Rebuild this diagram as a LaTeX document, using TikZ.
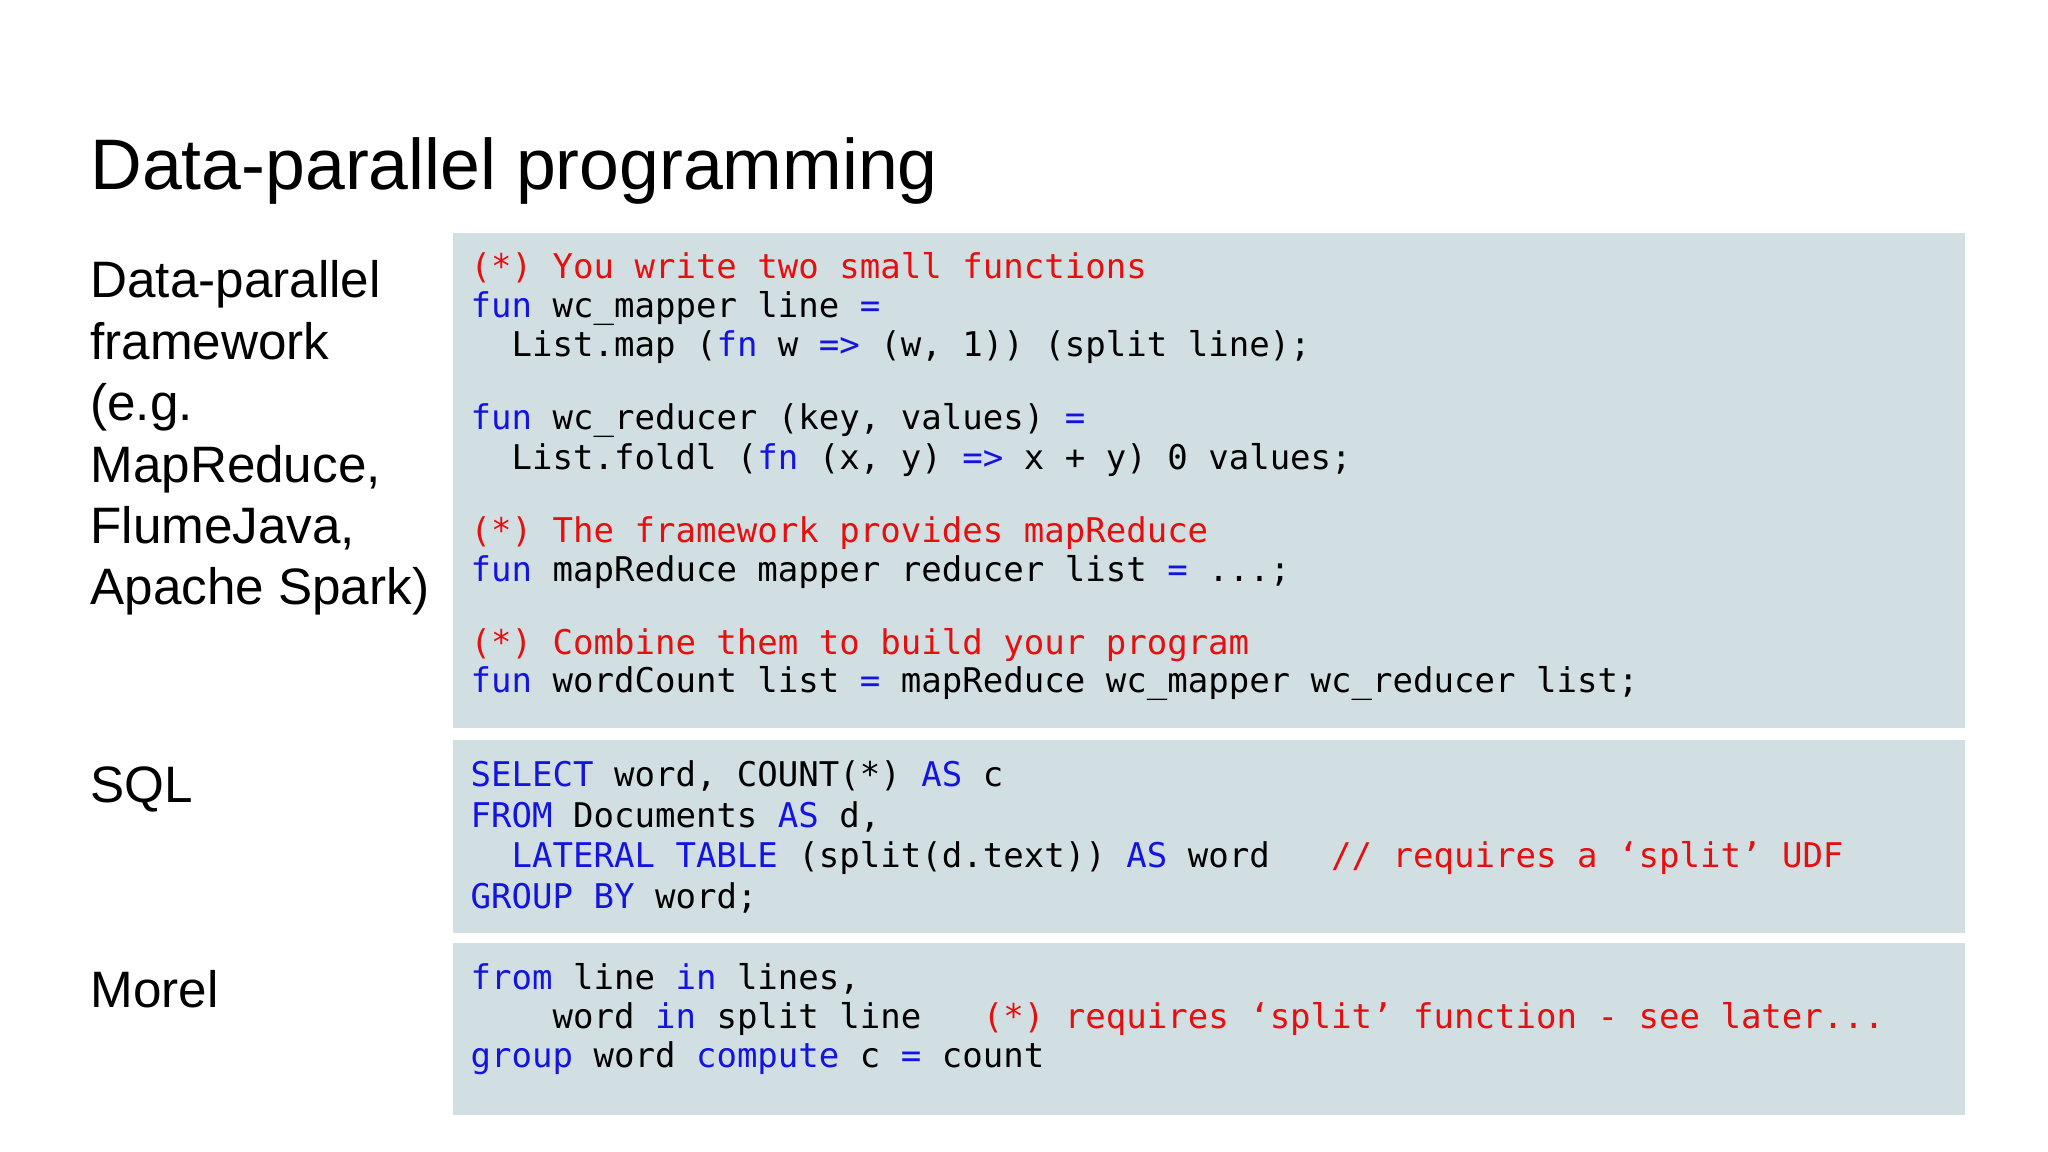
\documentclass[tikz,border=0pt]{standalone}
\usepackage{fontspec}
\setmainfont{Liberation Sans}
\newfontfamily\cmono{DejaVu Sans Mono}
\definecolor{kw}{RGB}{20,20,225}
\definecolor{cm}{RGB}{230,15,15}
\definecolor{boxc}{RGB}{209,223,227}
\newcommand{\K}[1]{\textcolor{kw}{#1}}
\newcommand{\C}[1]{\textcolor{cm}{#1}}
\begin{document}
\begin{tikzpicture}[x=1pt,y=1pt,
  codebox/.style={fill=boxc,draw=none,inner sep=0pt},
  code/.style={anchor=base west,inner sep=0pt,font=\cmono\fontsize{26.05}{30}\selectfont},
  lbl/.style={anchor=base west,inner sep=0pt,font=\fontsize{39.2}{47}\selectfont}]
\useasboundingbox[fill=white] (0,0) rectangle (1567.5,-881.7);
\node[anchor=base west,inner sep=0pt,font=\fontsize{54.8}{60}\selectfont] (title) at (69,-145) {Data-parallel programming};
\node[codebox,minimum width=1157,minimum height=379] (b1) at (925.5,-367.5) {};
\node[codebox,minimum width=1157,minimum height=148] (b2) at (925.5,-640) {};
\node[codebox,minimum width=1157,minimum height=131] (b3) at (925.5,-787.5) {};
\node[lbl] (d1) at (69,-228) {Data-parallel};
\node[lbl] (d2) at (69,-275) {framework};
\node[lbl] (d3) at (69,-322) {(e.g.};
\node[lbl] (d4) at (69,-369) {MapReduce,};
\node[lbl] (d5) at (69,-416) {FlumeJava,};
\node[lbl] (d6) at (69,-463) {Apache Spark)};
\node[lbl] (sql) at (69,-614) {SQL};
\node[lbl] (morel) at (69,-771) {Morel};
\node[code] (c1) at (360,-213) {\C{(*) You write two small functions}};
\node[code] (c2) at (360,-243) {\K{fun} wc\_mapper line \K{=}};
\node[code] (c3) at (360,-273) {~~List.map (\K{fn} w \K{=>} (w, 1)) (split line);};
\node[code] (c4) at (360,-329) {\K{fun} wc\_reducer (key, values) \K{=}};
\node[code] (c5) at (360,-359) {~~List.foldl (\K{fn} (x, y) \K{=>} x + y) 0 values;};
\node[code] (c6) at (360,-415) {\C{(*) The framework provides mapReduce}};
\node[code] (c7) at (360,-445) {\K{fun} mapReduce mapper reducer list \K{=} ...;};
\node[code] (c8) at (360,-501) {\C{(*) Combine them to build your program}};
\node[code] (c9) at (360,-530) {\K{fun} wordCount list \K{=} mapReduce wc\_mapper wc\_reducer list;};
\node[code] (s1) at (360,-602) {\K{SELECT} word, COUNT(*) \K{AS} c};
\node[code] (s2) at (360,-633) {\K{FROM} Documents \K{AS} d,};
\node[code] (s3) at (360,-664) {~~\K{LATERAL TABLE} (split(d.text)) \K{AS} word~~~\C{// requires a ‘split’ UDF}};
\node[code] (s4) at (360,-695) {\K{GROUP BY} word;};
\node[code] (m1) at (360,-757) {\K{from} line \K{in} lines,};
\node[code] (m2) at (360,-787) {~~~~word \K{in} split line~~~\C{(*) requires ‘split’ function - see later...}};
\node[code] (m3) at (360,-817) {\K{group} word \K{compute} c \K{=} count};
\end{tikzpicture}
\end{document}
